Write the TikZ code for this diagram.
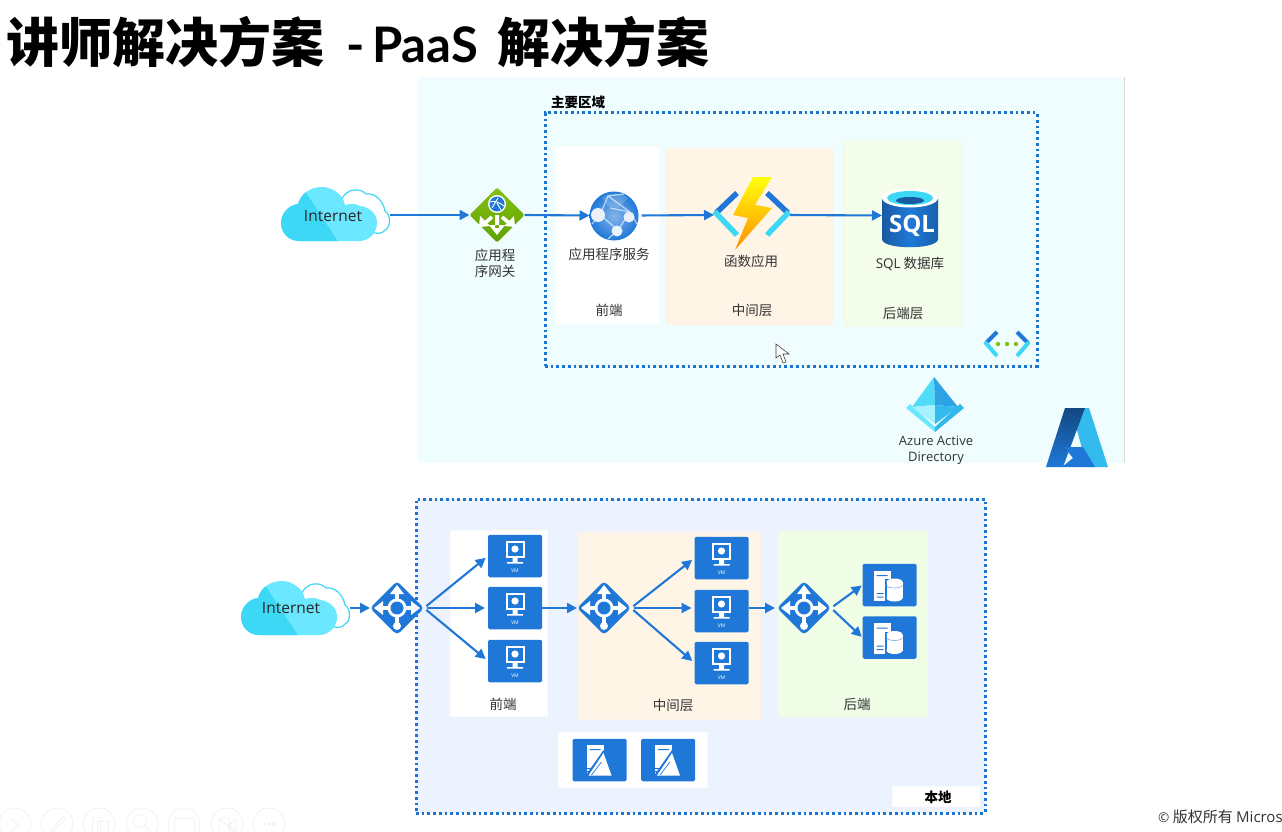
\documentclass[tikz,border=0pt]{standalone}
\usepackage{fontspec}
\setmainfont{Noto Sans CJK SC}
\newfontfamily\lat{Open Sans}
\newfontfamily\titlelat{Lato}
\usetikzlibrary{arrows.meta,shapes.geometric}
\definecolor{azblue}{HTML}{1F78D8}
\definecolor{dotblue}{HTML}{1C74CF}
\definecolor{cyanA}{HTML}{3DD8F6}
\definecolor{cyanB}{HTML}{6BE7FF}
\definecolor{regionA}{HTML}{F0FDFF}
\definecolor{regionB}{HTML}{ECF3FE}
\definecolor{tierOrange}{HTML}{FFF5E7}
\definecolor{tierGreenA}{HTML}{F3FDE9}
\definecolor{tierGreenB}{HTML}{F1FEE7}
\definecolor{ink}{HTML}{333333}
\definecolor{ghost}{HTML}{F2F2F2}
\definecolor{gwtop}{HTML}{86C016}
\definecolor{gwbot}{HTML}{5EA200}
\tikzset{
  x=1pt,y=-1pt,
  txt/.style={inner sep=0pt,text=ink,font=\fontsize{13.5}{16}\selectfont,align=center},
  boldtxt/.style={txt,text=black,font=\fontsize{13.5}{16}\selectfont\bfseries},
  lattxt/.style={txt,font=\fontsize{13}{16}\selectfont\lat},
  nettxt/.style={inner sep=0pt,text=black!85,font=\fontsize{15.5}{18}\selectfont\lat},
  region/.style={draw=none,inner sep=0pt,outer sep=0pt,anchor=north west},
  tier/.style={draw=#1!97!gray,line width=.4pt,fill=#1,inner sep=0pt,outer sep=0pt,anchor=north west},
  dotbox/.style={draw=dotblue,line width=3pt,dash pattern=on 2.7pt off 3pt,inner sep=0pt,outer sep=0pt,anchor=north west},
  anchorbox/.style={inner sep=0pt,outer sep=0pt,minimum width=#1,draw=none},
  flow/.style={draw=azblue,line width=2.1pt,-{Triangle[length=10pt,width=10pt]}},
  tile/.style={inner sep=0pt,outer sep=0pt,fill=azblue,rounded corners=1.5pt,minimum width=54pt,minimum height=42.5pt},
  gwdiamond/.style={diamond,aspect=1,inner sep=0pt,outer sep=0pt,minimum width=54pt,minimum height=54pt,rounded corners=4pt,fill=azblue},
  pics/cloudicon/.style={code={
    \path[fill=white,draw=cyanA,line width=1.2pt] (59,17) .. controls (61,8) and (68,3) .. (73,3) .. controls (79,2) and (83,5) .. (85,7) .. controls (95,6) and (102,14) .. (104,24) .. controls (110,28) and (110,40) .. (104,43) .. controls (102,46) and (98,47) .. (94,46) -- (70,30) -- cycle;
    \path[fill=cyanB] (18,54) .. controls (8,54) and (0,46) .. (0,36) .. controls (0,26) and (8,18) .. (17,17) .. controls (20,6) and (30,0) .. (41,0) .. controls (52,0) and (62,8) .. (64,18) .. controls (70,16) and (76,17) .. (79,19) .. controls (89,20) and (96,27) .. (96,36) .. controls (96,46) and (88,54) .. (78,54) -- cycle;
    \begin{scope}
      \clip (18,54) .. controls (8,54) and (0,46) .. (0,36) .. controls (0,26) and (8,18) .. (17,17) .. controls (20,6) and (30,0) .. (41,0) .. controls (52,0) and (62,8) .. (64,18) -- (64,54) -- cycle;
      \fill[cyanA] (-2,-2) -- (20,-2) -- (58,56) -- (-2,56) -- cycle;
    \end{scope}
  }},
  pics/gwblue/.style={code={
    \draw[white,line width=3.6pt] (-18,0) -- (18,0) (0,-18) -- (0,18);
    \fill[white] (-23,0) -- (-14,-7) -- (-14,7) -- cycle (23,0) -- (14,-7) -- (14,7) -- cycle (0,-23) -- (-7,-14) -- (7,-14) -- cycle (0,18) circle[radius=4pt];
    \fill[white] (0,0) circle[radius=9.5pt];
    \fill[azblue] (0,0) circle[radius=6.5pt];
  }},
  pics/vmicon/.style={code={
    \fill[white] (-9.5,-15.5) rectangle (9.5,2);
    \fill[azblue] (-7.5,-13.5) rectangle (7.5,0);
    \fill[white] (0,-7) circle[radius=3.6pt];
    \fill[white] (-2.5,2) rectangle (2.5,6) (-8,6) rectangle (8,7.5);
    \node[inner sep=0pt,text=white,font=\fontsize{5}{5}\selectfont\lat] at (0,14.5) {VM};
  }},
  pics/dbicon/.style={code={
    \fill[white] (-16,-14.5) rectangle (1,16);
    \fill[azblue] (-13,-10) rectangle (-2,-9) (-13,8) rectangle (-6,9) (-13,11.5) rectangle (-6,12.5);
    \fill[azblue] (-5,-6) rectangle (15,17);
    \fill[white] (-3,-3) rectangle (13,13);
    \fill[white] (5,-3) ellipse[x radius=8pt,y radius=3.5pt] (5,13) ellipse[x radius=8pt,y radius=3.5pt];
    \draw[azblue!60!white,line width=.6pt] (-3,0) arc[start angle=180,end angle=360,x radius=8pt,y radius=3pt];
  }},
  pics/adicon/.style={code={
    \fill[white] (-13,-15) rectangle (4,16);
    \fill[azblue] (-10,-11) rectangle (1,-10) (-13,8) rectangle (-5,9) (-13,11) rectangle (-7,12);
    \fill[azblue] (4,-10) -- (-15,17) -- (14,17) -- cycle;
    \fill[white] (4,-7) -- (-11,15.5) -- (12,15.5) -- cycle;
    \draw[azblue,line width=.7pt] (-8,15) -- (2,2);
  }},
  pics/gwgreen/.style={code={
    \fill[white] (-2,0) rectangle (2,13) (-8,10) -- (8,10) -- (0,20) -- cycle;
    \draw[white,line width=3.6pt] (-5,2) -- (-12,8) (5,2) -- (12,8);
    \fill[white] (-18,12) -- (-17,1) -- (-7,11) -- cycle (18,12) -- (17,1) -- (7,11) -- cycle;
    \fill[white] (0,-11) circle[radius=9pt];
    \fill[azblue] (0,-11) circle[radius=7.5pt];
    \draw[white,line width=.9pt] (-7,-13) .. controls (-2,-15) and (3,-12) .. (7,-9) (-5,-7) -- (1,-17) (0,-12) -- (4,-5);
  }},
  pics/globeicon/.style={code={
    \shade[inner color=azblue!55!white,outer color=azblue] (0,0) circle[radius=24.5pt];
    \fill[white,opacity=.18] (-12,-18) .. controls (-4,-24) and (8,-24) .. (14,-18) -- (4,-8) -- (-6,-10) -- cycle;
    \draw[white,opacity=.6,line width=1.3pt] (-14,-1) -- (-6,-20) -- (16,-4) -- (4,14) -- (-14,-1) (-6,-20) -- (10,-22) (-14,-1) -- (-22,8) (4,14) -- (-6,23) (16,-4) -- (23,8) (-4,-8) -- (16,-4);
    \fill[white!90!azblue] (-16,-1) circle[radius=7pt];
    \fill[white!90!azblue] (15,1) circle[radius=5.5pt];
    \fill[white!90!azblue] (3,15) circle[radius=5.5pt];
  }},
  pics/fnicon/.style={code={
    \draw[azblue,line width=5.5pt] (-15,-21) -- (-36,-1);
    \draw[cyanA,line width=5.5pt] (-37.5,-2.5) -- (-15,21);
    \draw[azblue,line width=5.5pt] (15,-21) -- (36,-1);
    \draw[cyanA,line width=5.5pt] (37,-2) -- (15,21);
    \shade[top color=yellow!95!white,bottom color=orange!90!yellow] (1,-37) -- (20,-37) -- (3,-9) -- (20,-6) -- (-17,36) -- (-4,4) -- (-19,1) -- cycle;
  }},
  pics/sqlicon/.style={code={
    \shade[left color=azblue!75!black,right color=azblue!80!black,middle color=azblue] (-28,-19) -- (-28,22) .. controls (-28,33) and (28,33) .. (28,22) -- (28,-19) -- cycle;
    \fill[white] (0,-19) ellipse[x radius=28pt,y radius=9.5pt];
    \fill[cyanA] (0,-19) ellipse[x radius=23pt,y radius=7pt];
    \fill[azblue!75!black] (0,-16.5) ellipse[x radius=14pt,y radius=3.5pt];
    \node[inner sep=0pt,text=white,font=\fontsize{24}{24}\selectfont\lat\bfseries] at (2,9) {SQL};
  }},
  pics/vneticon/.style={code={
    \draw[azblue,line width=4pt] (-10,-12) -- (-21,-1);
    \draw[cyanA,line width=4pt] (-22,-2) -- (-10,12);
    \draw[azblue,line width=4pt] (10,-12) -- (21,-1);
    \draw[cyanA,line width=4pt] (22,-2) -- (10,12);
    \fill[gwtop] (-9,0) circle[radius=2.2pt] (0,0) circle[radius=2.2pt] (9,0) circle[radius=2.2pt];
  }},
}
\begin{document}
\begin{tikzpicture}
\useasboundingbox (0,0) rectangle (1282,832);
\fill[white] (0,0) rectangle (1282,832);

% title
\node[anchor=west,inner sep=0pt,text=black,font=\fontsize{53}{60}\selectfont] (title) at (6,42)
  {{\bfseries 讲师解决方案}\hspace{22pt}{\fontsize{49}{60}\selectfont\titlelat\bfseries -\hspace{-4pt} PaaS}\hspace{19pt}{\bfseries 解决方案}};

% upper region
\node[region,fill=regionA,minimum width=706pt,minimum height=386pt] (azureregion) at (418,77) {};
\draw[gray!30,line width=1pt] (azureregion.north east) -- (azureregion.south east);
\node[dotbox,minimum width=492pt,minimum height=253pt] (mainzone) at (545,113) {};
\node[boldtxt] (mainlabel) at (578,102) {主要区域};
\node[tier=white,minimum width=104pt,minimum height=177pt] (frontA) at (555,146) {};
\node[tier=tierOrange,minimum width=166pt,minimum height=176pt] (midA) at (666,148) {};
\node[tier=tierGreenA,minimum width=117pt,minimum height=186pt] (backA) at (844,140) {};

% upper icons
\node[anchorbox=109pt,minimum height=54pt] (cloudA) at (335.5,215) {};
\pic at (281,187) {cloudicon};
\node[nettxt] (netA) at (333,216) {Internet};
\node[diamond,aspect=1,inner sep=0pt,outer sep=0pt,minimum width=55pt,minimum height=55pt,rounded corners=2pt,top color=gwtop,bottom color=gwbot] (gwA) at (497,215) {};
\pic at (497,215) {gwgreen};
\node[txt] (gwAtxt) at (495,263) {应用程\\序网关};
\node[anchorbox=49pt,minimum height=49pt] (appA) at (614,215.5) {};
\pic at (614,216) {globeicon};
\node[txt] (appAtxt) at (609,254) {应用程序服务};
\node[anchorbox=76pt,minimum height=76pt] (fnA) at (752,215) {};
\pic at (752,214) {fnicon};
\node[txt] (fnAtxt) at (751,261) {函数应用};
\node[anchorbox=56pt,minimum height=60pt] (sqlA) at (910,215.5) {};
\pic at (910,217) {sqlicon};
\node[txt] (sqlAtxt) at (910,264) {{\lat SQL} 数据库};
\node[txt] (frontAtxt) at (609,310) {前端};
\node[txt] (midAtxt) at (752,310) {中间层};
\node[txt] (backAtxt) at (903,313) {后端层};
\node[anchorbox=44pt,minimum height=28pt] (vnetA) at (1007,344) {};
\pic at (1007,344) {vneticon};

% cursor
\path[fill=white,draw=black!75,line width=.6pt] (776,344) -- (776,358) -- (780,355) -- (783,363) -- (786,362) -- (783,354) -- (789,354) -- cycle;

% Azure Active Directory
\fill[cyanB] (906,408) -- (910,404) -- (935,427) -- (935,432) -- cycle;
\fill[azblue!35!cyanA] (964,408) -- (960,404) -- (935,427) -- (935,432) -- cycle;
\fill[cyanA!90!white] (934,377) -- (912,407) -- (935,405) -- cycle;
\fill[azblue!55!cyanA] (934,377) -- (958,407) -- (935,405) -- cycle;
\fill[cyanB!60!white] (912,407) -- (935,405) -- (935,424) -- cycle;
\fill[azblue!30!cyanA] (958,407) -- (935,405) -- (935,424) -- cycle;
\node[lattxt] (aadtxt) at (936,450) {Azure Active\\Directory};

% Azure logo
\fill[cyanA!70!azblue] (1071,408) -- (1089,408) -- (1108,467) -- (1087,467) -- cycle;
\shade[top color=azblue!60!black,bottom color=azblue] (1065,408) -- (1085,408) -- (1063,467) -- (1046,467) -- cycle;
\fill[azblue] (1064,447) -- (1083,447) -- (1095,467) -- (1062,467) -- (1073,458) -- cycle;

% upper connectors
\draw[flow] (cloudA.east) -- (gwA.west);
\draw[flow] (gwA.east) -- (appA.west);
\draw[flow,shorten <=3pt] (appA.east) -- (fnA.west);
\draw[flow] (fnA.east) -- (sqlA.west);

% lower region
\node[region,fill=regionB,minimum width=569pt,minimum height=314pt] (localregion) at (416,499) {};
\node[dotbox,minimum width=569pt,minimum height=314pt] (localzone) at (416,499) {};
\node[tier=white,minimum width=97pt,minimum height=186pt] (frontB) at (450,530) {};
\node[tier=tierOrange,minimum width=182pt,minimum height=187pt] (midB) at (578,532) {};
\node[tier=tierGreenB,minimum width=149pt,minimum height=185pt] (backB) at (778,531) {};
\node[tier=white,minimum width=149pt,minimum height=55pt] (adbox) at (558,732) {};
\node[tier=white,minimum width=87pt,minimum height=20pt] (localbox) at (892,786) {};
\node[boldtxt] (localtxt) at (938,797) {本地};
\node[txt] (frontBtxt) at (503,704) {前端};
\node[txt] (midBtxt) at (673,705) {中间层};
\node[txt] (backBtxt) at (857,704) {后端};

\node[anchorbox=109pt,minimum height=54pt] (cloudB) at (295.5,608) {};
\pic at (241,581) {cloudicon};
\node[nettxt] (netB) at (291,608) {Internet};

\node[gwdiamond] (gw1) at (397,608) {};
\pic at (397,608) {gwblue};
\node[gwdiamond] (gw2) at (604,608) {};
\pic at (604,608) {gwblue};
\node[gwdiamond] (gw3) at (804,608) {};
\pic at (804,608) {gwblue};

\node[tile] (f1) at (515,556) {};
\pic at (515,556) {vmicon};
\node[tile] (f2) at (515,608) {};
\pic at (515,608) {vmicon};
\node[tile] (f3) at (515,661) {};
\pic at (515,661) {vmicon};
\node[tile] (m1) at (721.5,558) {};
\pic at (721.5,558) {vmicon};
\node[tile] (m2) at (721.5,611) {};
\pic at (721.5,611) {vmicon};
\node[tile] (m3) at (721.5,663) {};
\pic at (721.5,663) {vmicon};
\node[tile] (b1) at (889.5,585) {};
\pic at (889.5,585) {dbicon};
\node[tile] (b2) at (889.5,637.5) {};
\pic at (889.5,637.5) {dbicon};
\node[tile] (a1) at (599.5,760) {};
\pic at (599.5,760) {adicon};
\node[tile] (a2) at (668,760) {};
\pic at (668,760) {adicon};

% lower connectors
\draw[flow] (cloudB.east) -- (gw1.west);
\draw[flow,shorten <=3pt,shorten >=3pt] (gw1.east) -- (f1.west);
\draw[flow,shorten <=3pt,shorten >=3pt] (gw1.east) -- (f2.west);
\draw[flow,shorten <=3pt,shorten >=3pt] (gw1.east) -- (f3.west);
\draw[flow] (f2.east) -- (gw2.west);
\draw[flow,shorten <=3pt,shorten >=3pt] (gw2.east) -- (m1.west);
\draw[flow,shorten <=3pt,shorten >=3pt] (gw2.east) -- (m2.west |- gw2.east);
\draw[flow,shorten <=3pt,shorten >=3pt] (gw2.east) -- (m3.west);
\draw[flow,shorten >=2pt] (m2.east |- gw3.west) -- (gw3.west);
\draw[flow,shorten <=3pt,shorten >=1pt] (gw3.east) -- (b1.west);
\draw[flow,shorten <=3pt,shorten >=1pt] (gw3.east) -- (b2.west);

% footer
\node[anchor=west,inner sep=0pt,text=ink,font=\fontsize{15}{18}\selectfont] (copyright) at (1158,817) {{\lat\fontsize{13.5}{18}\selectfont ©} 版权所有 {\lat Micros}};

% faint slide toolbar
\begin{scope}[draw=ghost,line width=.9pt]
\foreach \cx in {15,57,99,142,184,227,269} {\draw (\cx,824) circle[radius=16pt];}
\draw (11,819) -- (19,825) -- (11,831);
\draw (50,831) -- (64,816) (53,832) -- (66,818);
\draw (92,817) rectangle (100,832) (97,821) rectangle (108,832);
\draw (140,821) circle[radius=6.5pt] (145,826) -- (151,832);
\draw (174,818) rectangle (194,832);
\draw (219,818) -- (234,832) (219,818) rectangle (229,832) (229,825) -- (236,819) -- (236,832) -- cycle;
\foreach \dx in {-5,0,5} {\draw (269+\dx,824) circle[radius=1.2pt];}
\end{scope}
\end{tikzpicture}
\end{document}
